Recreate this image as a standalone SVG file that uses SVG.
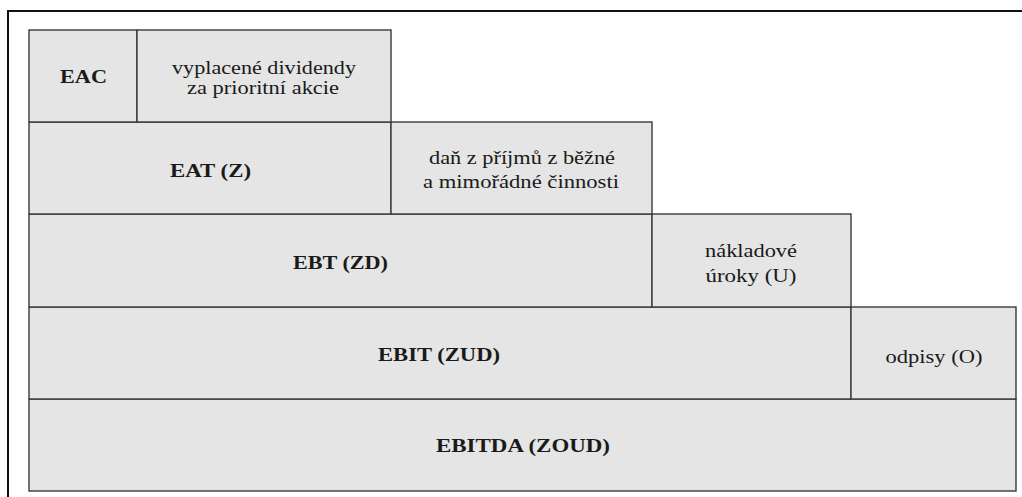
<svg xmlns="http://www.w3.org/2000/svg" width="1022" height="497" viewBox="0 0 1022 497">
<style>
.b{fill:#e4e5e4;stroke:#3a3a3a;stroke-width:1.4}
.t{font-size:19px;fill:#1a1a1a;text-anchor:middle}
.bd{font-weight:bold}
</style>
<rect x="0" y="0" width="1022" height="497" fill="#fdfefd"/>
<path d="M8 497 V11 H1022" fill="none" stroke="#111" stroke-width="2"/>
<g font-family="Liberation Serif">
<g id="row5-ebitda"><rect class="b" x="29" y="399" width="987" height="92"/><text class="t bd" x="523" y="452" textLength="174" lengthAdjust="spacingAndGlyphs">EBITDA (ZOUD)</text></g>
<g id="row4-ebit"><rect class="b" x="29" y="307" width="822" height="92"/><text class="t bd" x="439" y="361" textLength="122" lengthAdjust="spacingAndGlyphs">EBIT (ZUD)</text></g>
<g id="row4-odpisy"><rect class="b" x="851" y="307" width="165" height="92"/><text class="t" x="934" y="363" textLength="97" lengthAdjust="spacingAndGlyphs">odpisy (O)</text></g>
<g id="row3-ebt"><rect class="b" x="29" y="214" width="623" height="93"/><text class="t bd" x="340.5" y="269" textLength="95" lengthAdjust="spacingAndGlyphs">EBT (ZD)</text></g>
<g id="row3-uroky"><rect class="b" x="652" y="214" width="199" height="93"/><text class="t" x="751" y="257" textLength="92" lengthAdjust="spacingAndGlyphs">nákladové</text><text class="t" x="751" y="282" textLength="91" lengthAdjust="spacingAndGlyphs">úroky (U)</text></g>
<g id="row2-eat"><rect class="b" x="29" y="122" width="362" height="92"/><text class="t bd" x="210.5" y="177" textLength="81" lengthAdjust="spacingAndGlyphs">EAT (Z)</text></g>
<g id="row2-dan"><rect class="b" x="391" y="122" width="261" height="92"/><text class="t" x="522" y="164" textLength="186" lengthAdjust="spacingAndGlyphs">daň z příjmů z běžné</text><text class="t" x="521" y="188" textLength="196" lengthAdjust="spacingAndGlyphs">a mimořádné činnosti</text></g>
<g id="row1-eac"><rect class="b" x="29" y="30" width="108" height="92"/><text class="t bd" x="83.5" y="83" textLength="47" lengthAdjust="spacingAndGlyphs">EAC</text></g>
<g id="row1-dividendy"><rect class="b" x="137" y="30" width="254" height="92"/><text class="t" x="264" y="74" textLength="184" lengthAdjust="spacingAndGlyphs">vyplacené dividendy</text><text class="t" x="263" y="94" textLength="152" lengthAdjust="spacingAndGlyphs">za prioritní akcie</text></g>
</g>
<g id="connectors"/>
</svg>
